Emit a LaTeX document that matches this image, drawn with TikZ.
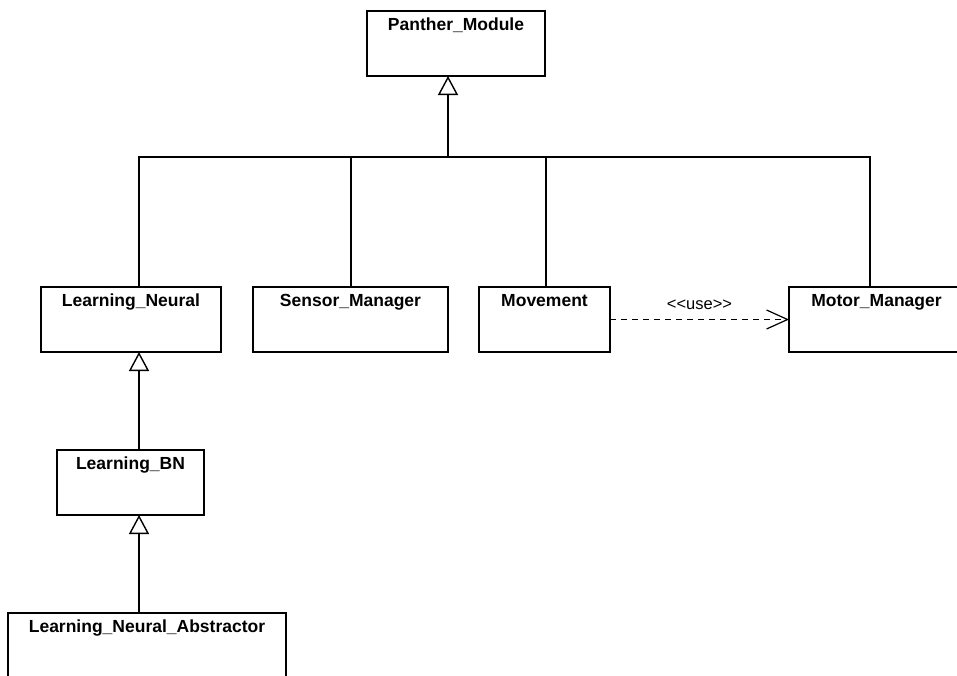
\documentclass[tikz,border=0pt]{standalone}
\usepackage{fontspec}
\setmainfont{Liberation Sans}
\usetikzlibrary{arrows.meta}

\tikzset{
  cls/.style={draw, line width=1.4pt, fill=white, anchor=north west, outer sep=0pt,
    inner xsep=0pt, inner ysep=3pt, minimum height=65pt,
    text height=16pt, text depth=43pt,
    font=\fontsize{17.5}{19}\selectfont\bfseries},
  lnk/.style={line width=1.4pt},
  gen/.style={lnk, -{Triangle[open, length=19pt, width=20pt, line width=1.4pt]}},
  dep/.style={line width=1.2pt, dash pattern=on 6pt off 5pt,
    -{Straight Barb[length=21pt, width=19pt, line width=1.2pt]}},
  lbl/.style={font=\fontsize{16.5}{18}\selectfont}
}

\begin{document}
\begin{tikzpicture}[x=1pt, y=-1pt]
\useasboundingbox (0,0) rectangle (957,675);
\clip (0,0) rectangle (957,675);

\draw (367,11) node[cls, minimum width=178pt] (PM) {Panther\_Module};
\draw (41,287) node[cls, minimum width=180pt] (LN) {Learning\_Neural};
\draw (253,287) node[cls, minimum width=195pt] (SM) {Sensor\_Manager};
\draw (479,287) node[cls, minimum width=131pt] (MV) {Movement};
\draw (789,287) node[cls, minimum width=175pt] (MM) {Motor\_Manager};
\draw (57,450) node[cls, minimum width=147pt] (LB) {Learning\_BN};
\draw (8,613) node[cls, minimum width=278pt] (LA) {Learning\_Neural\_Abstractor};

\coordinate (bus) at (448,157);
\coordinate (colL) at (139,0);
\coordinate (colS) at (351,0);
\coordinate (colV) at (546,0);
\coordinate (colM) at (870,0);

\draw[gen] (bus) -- (PM.south -| bus);
\draw[lnk] (LN.north -| colL) |- (bus) -| (MM.north -| colM);
\draw[lnk] (SM.north -| colS) -- (colS |- bus);
\draw[lnk] (MV.north -| colV) -- (colV |- bus);

\draw[gen] (LB.north -| colL) -- (LN.south -| colL);
\draw[gen] (LA.north -| colL) -- (LB.south -| colL);

\draw[dep] (MV.east) -- (MM.west) node[lbl, midway, above=6pt] {<\kern0pt<use>\kern0pt>};
\end{tikzpicture}
\end{document}
